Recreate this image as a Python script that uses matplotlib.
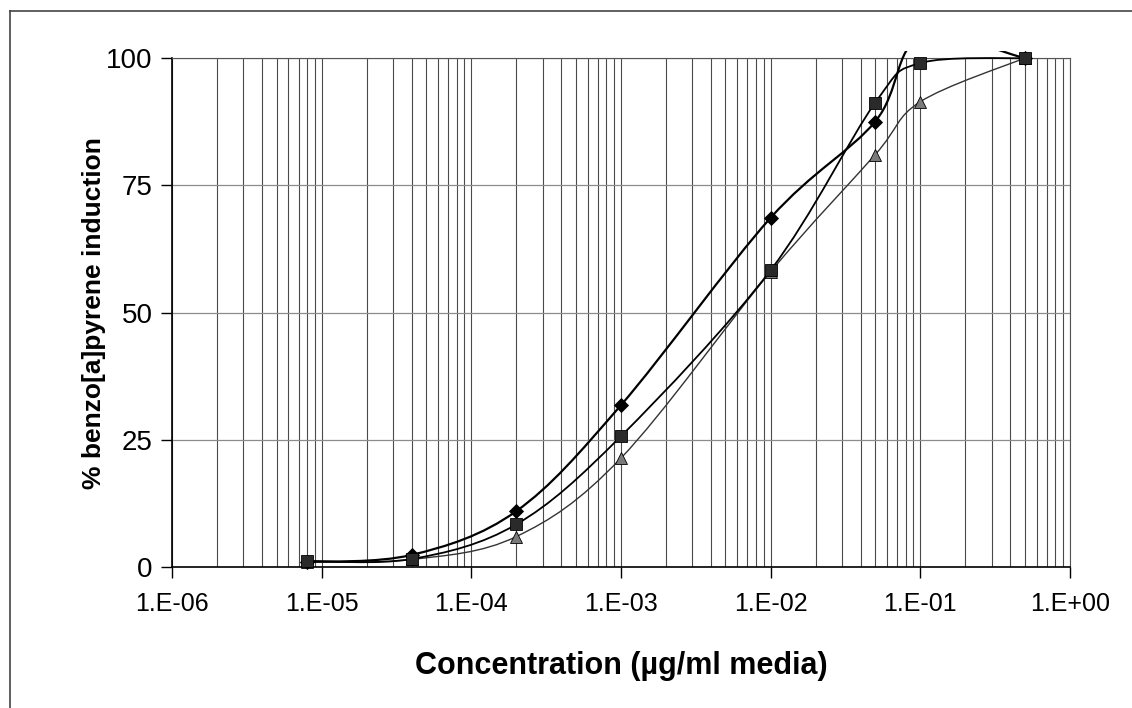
#!/usr/bin/env python3
"""Dose-response curves: % benzo[a]pyrene induction vs concentration (log x)."""
import numpy as np
import matplotlib

matplotlib.use("Agg")
import matplotlib.pyplot as plt
from matplotlib.path import Path
from matplotlib.patches import PathPatch, Rectangle
from matplotlib.lines import Line2D
from matplotlib.ticker import FixedLocator, FuncFormatter, LogLocator

# data
conc = [8e-6, 4e-5, 2e-4, 1e-3, 1e-2, 5e-2, 1e-1, 5e-1]
diamond = [1.0, 2.4, 11.0, 31.8, 68.6, 87.5, 104.0, 100.0]  # 0.1 point sits above the plot top
square = [1.2, 1.6, 8.4, 25.7, 58.3, 91.2, 99.0, 100.0]
triangle = [1.0, 1.5, 6.0, 21.4, 58.0, 81.0, 91.4, 100.0]
yticks = [0, 25, 50, 75, 100]
xdecades = [1e-6, 1e-5, 1e-4, 1e-3, 1e-2, 1e-1, 1e0]

plt.rcParams.update(
    {
        "font.family": ["Liberation Sans", "DejaVu Sans"],
        "font.size": 18,
    }
)

fig = plt.figure(figsize=(11.32, 7.08), dpi=100)
ax = fig.add_axes([0.152, 0.199, 0.793, 0.719])

# pixel-ish scale factors so the smoothing behaves like Excel's (screen space)
PX_DECADE = 149.7
PX_UNIT = 5.09


def smooth_path(xs, ys):
    """Catmull-Rom style cubic Bezier through the points, built in log-x space."""
    u = np.log10(xs) * PX_DECADE
    v = np.asarray(ys, float) * PX_UNIT
    pts = np.column_stack([u, v])
    n = len(pts)
    verts = [pts[0]]
    codes = [Path.MOVETO]
    for i in range(n - 1):
        p0 = pts[max(i - 1, 0)]
        p1 = pts[i]
        p2 = pts[i + 1]
        p3 = pts[min(i + 2, n - 1)]
        c1 = p1 + (p2 - p0) / 6.0
        c2 = p2 - (p3 - p1) / 6.0
        verts += [c1, c2, p2]
        codes += [Path.CURVE4] * 3
    verts = np.array(verts)
    verts[:, 0] = 10 ** (verts[:, 0] / PX_DECADE)
    verts[:, 1] = verts[:, 1] / PX_UNIT
    return Path(verts, codes)


ax.set_xscale("log")
ax.set_xlim(1e-6, 1e0)
ax.set_ylim(0, 100)

# lines are clipped a touch above the 100 line, markers a bit more
line_clip = Rectangle((0, -0.02), 1, 1.033, transform=ax.transAxes, facecolor="none", edgecolor="none")
mark_clip = Rectangle((0, -0.03), 1, 1.052, transform=ax.transAxes, facecolor="none", edgecolor="none")
ax.add_patch(line_clip)
ax.add_patch(mark_clip)

series = [
    (triangle, "^", "#7a7a7a", "#333333", 1.0, 9),
    (diamond, "D", "#000000", "#000000", 1.6, 7.5),
    (square, "s", "#2a2a2a", "#000000", 1.3, 8),
]
for ys, mk, mfc, lc, lw, ms in series:
    patch = PathPatch(smooth_path(conc, ys), fill=False, edgecolor=lc, lw=lw, zorder=3)
    ax.add_patch(patch)
    patch.set_clip_path(line_clip)
    (ln,) = ax.plot(conc, ys, ls="none", marker=mk, ms=ms, mfc=mfc, mec="#000000", mew=0.6, zorder=4)
    ln.set_clip_path(mark_clip)

ax.xaxis.set_major_locator(FixedLocator(xdecades))
ax.xaxis.set_minor_locator(LogLocator(base=10, subs=np.arange(2, 10)))
ax.xaxis.set_major_formatter(FuncFormatter(lambda v, p: f"1.E{int(round(np.log10(v))):+03d}"))
ax.set_yticks(yticks)

ax.grid(True, axis="x", which="both", color="#4a4a4a", lw=0.8)
ax.grid(True, axis="y", which="major", color="#8c8c8c", lw=0.9)
ax.set_axisbelow(True)
ax.tick_params(axis="x", which="minor", length=0)
ax.tick_params(axis="x", which="major", length=8, width=1, pad=10, direction="out", labelsize=18)
ax.tick_params(axis="y", which="major", length=8, width=1, pad=6, direction="out", labelsize=20)

for side in ("top", "right"):
    ax.spines[side].set_color("#555555")
    ax.spines[side].set_linewidth(0.8)
for side in ("left", "bottom"):
    ax.spines[side].set_color("#000000")
    ax.spines[side].set_linewidth(1.2)

ax.set_xlabel("Concentration (µg/ml media)", fontsize=22, fontweight="bold")
ax.set_ylabel("% benzo[a]pyrene induction", fontsize=19, fontweight="bold")
ax.xaxis.set_label_coords(0.5, -0.165)
ax.yaxis.set_label_coords(-0.074, 0.5)

# chart-area frame (left and top edges are what shows in the scan)
fig.add_artist(Line2D([10 / 1132, 10 / 1132], [0, 1 - 11 / 708], color="#444444", lw=1.2))
fig.add_artist(Line2D([10 / 1132, 1], [1 - 11 / 708, 1 - 11 / 708], color="#444444", lw=1.2))

fig.savefig("out.png", dpi=100)
